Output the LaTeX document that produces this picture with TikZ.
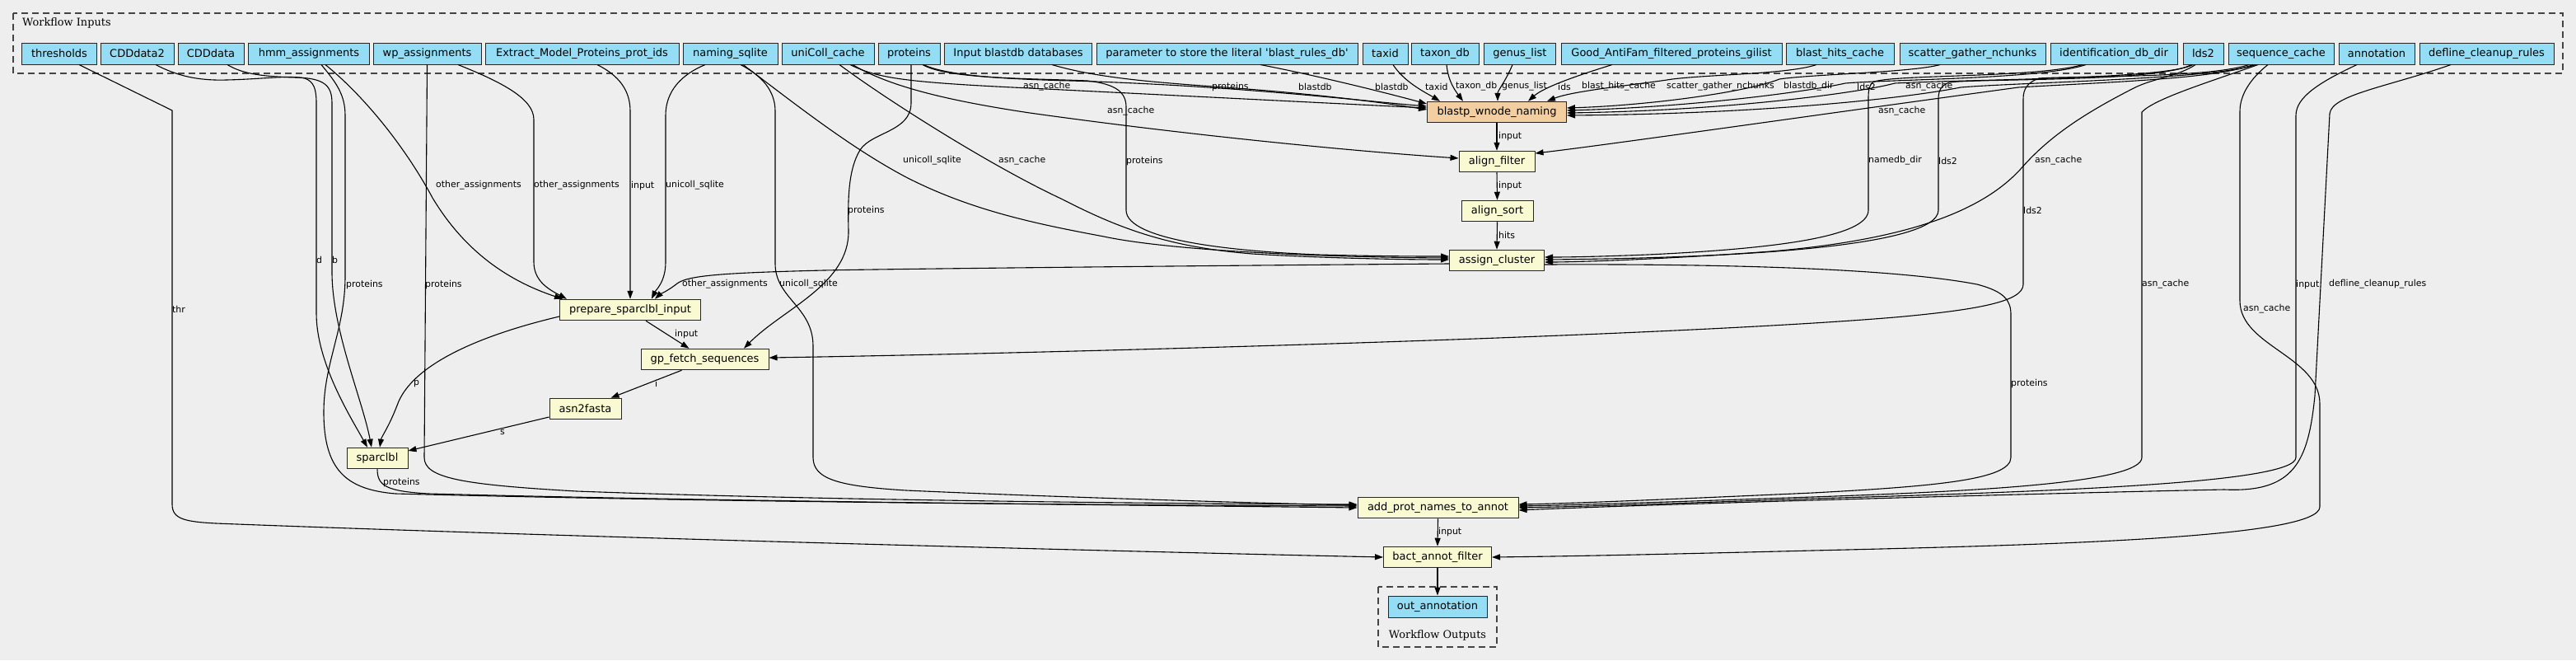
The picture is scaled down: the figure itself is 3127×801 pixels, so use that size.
\documentclass[tikz,border=0pt]{standalone}
\usepackage{fontspec}
\setmainfont{DejaVu Sans}
\newfontfamily\serifft{DejaVu Serif}
\usetikzlibrary{arrows.meta}
\definecolor{bgc}{HTML}{EEEEEE}
\definecolor{inc}{HTML}{94DDF4}
\definecolor{stc}{HTML}{FAFAD2}
\definecolor{wfc}{HTML}{F3CEA1}
\definecolor{grpc}{HTML}{444444}
\begin{document}
\begin{tikzpicture}[x=1pt,y=-1pt,
  inp/.style={draw=black!85, line width=1pt, fill=inc, minimum height=26pt, inner sep=0pt, font=\fontsize{13pt}{15pt}\selectfont},
  stp/.style={draw=black!85, line width=1pt, fill=stc, minimum height=25.5pt, inner sep=0pt, font=\fontsize{13pt}{15pt}\selectfont},
  e/.style={line width=1.1pt, -{Triangle[length=10pt,width=7pt]}},
  lab/.style={font=\fontsize{10.9pt}{12pt}\selectfont, inner sep=0pt, anchor=west},
  grp/.style={draw=grpc, dash pattern=on 8pt off 5pt, line width=1.2pt},
  ttl/.style={font=\serifft\fontsize{12.9pt}{15pt}\selectfont, inner sep=0pt}]
\useasboundingbox (0,0) rectangle (3127,801);
\fill[bgc] (0,0) rectangle (3127,801);
% clusters
\draw[grp] (16,16) rectangle (3111,89);
\draw[grp] (1673,712) rectangle (1817,785);
\node[ttl, anchor=west] (tin) at (27,28) {Workflow Inputs};
\node[ttl] (tout) at (1745,771) {Workflow Outputs};
% inputs
\node[inp, minimum width=91pt] (thr) at (72,65) {thresholds};
\node[inp, minimum width=89pt] (cdd2) at (166.5,65) {CDDdata2};
\node[inp, minimum width=80pt] (cdd) at (256,65) {CDDdata};
\node[inp, minimum width=147pt] (hmm) at (375,65) {hmm\_assignments};
\node[inp, minimum width=131pt] (wp) at (518.5,65) {wp\_assignments};
\node[inp, minimum width=235pt] (emp) at (706.5,65) {Extract\_Model\_Proteins\_prot\_ids};
\node[inp, minimum width=115pt] (nsq) at (886.5,65) {naming\_sqlite};
\node[inp, minimum width=112pt] (ucc) at (1005,65) {uniColl\_cache};
\node[inp, minimum width=75pt] (prot) at (1103.5,65) {proteins};
\node[inp, minimum width=179pt] (ibd) at (1236,65) {Input blastdb databases};
\node[inp, minimum width=317pt] (par) at (1489.5,65) {parameter to store the literal \textquotesingle blast\_rules\_db\textquotesingle};
\node[inp, minimum width=55pt] (taxid) at (1681.5,65) {taxid};
\node[inp, minimum width=82pt] (taxdb) at (1754,65) {taxon\_db};
\node[inp, minimum width=87pt] (genus) at (1845,65) {genus\_list};
\node[inp, minimum width=268pt] (gaf) at (2029,65) {Good\_AntiFam\_filtered\_proteins\_gilist};
\node[inp, minimum width=131pt] (bhc) at (2233.5,65) {blast\_hits\_cache};
\node[inp, minimum width=177pt] (sgn) at (2394.5,65) {scatter\_gather\_nchunks};
\node[inp, minimum width=154pt] (idd) at (2566,65) {identification\_db\_dir};
\node[inp, minimum width=49pt] (lds) at (2674.5,65) {lds2};
\node[inp, minimum width=128pt] (seqc) at (2769,65) {sequence\_cache};
\node[inp, minimum width=92pt] (annot) at (2885,65) {annotation};
\node[inp, minimum width=163pt] (defl) at (3018.5,65) {defline\_cleanup\_rules};
% steps
\node[stp, fill=wfc, minimum width=169pt] (bwn) at (1817,136) {blastp\_wnode\_naming};
\node[stp, minimum width=92pt] (af) at (1817,196) {align\_filter};
\node[stp, minimum width=87pt] (asort) at (1817.5,256) {align\_sort};
\node[stp, minimum width=115pt] (ac) at (1817,316) {assign\_cluster};
\node[stp, minimum width=171pt] (psi) at (765,376) {prepare\_sparclbl\_input};
\node[stp, minimum width=155pt] (gfs) at (855.5,436) {gp\_fetch\_sequences};
\node[stp, minimum width=87pt] (a2f) at (710.5,496) {asn2fasta};
\node[stp, minimum width=74pt] (spl) at (458,556) {sparclbl};
\node[stp, minimum width=195pt] (apn) at (1745.5,616) {add\_prot\_names\_to\_annot};
\node[stp, minimum width=131pt] (baf) at (1745,676) {bact\_annot\_filter};
\node[inp, minimum width=120pt] (out) at (1745,736) {out\_annotation};
% edges
\draw[e] ([xshift=24pt]thr.south) -- (209,134) -- (209,612) .. controls (209,630) and (225,633) .. (262,635) .. controls (700,652) and (1400,670) .. (baf.west);
\draw[e] ([xshift=22.5pt]cdd2.south) .. controls (215,92) and (240,98) .. (275,97) .. controls (320,96) and (350,91) .. (370,95) .. controls (381,99) and (384,108) .. (384,125) -- (384,380) .. controls (384,440) and (425,505) .. ([xshift=-12pt]spl.north);
\draw[e] ([xshift=20pt]cdd.south) .. controls (295,90) and (320,93) .. (360,94) .. controls (394,95) and (403,104) .. (403,125) -- (403,330) .. controls (403,400) and (440,485) .. ([xshift=-7pt]spl.north);
\draw[e] ([xshift=15pt]hmm.south) .. controls (408,100) and (419,115) .. (419,140) -- (419,335) .. controls (419,400) and (393,440) .. (393,500) .. controls (393,570) and (420,594) .. (480,599) .. controls (900,610) and (1400,613) .. ([yshift=2pt]apn.west);
\draw[e] ([xshift=20pt]hmm.south) .. controls (440,115) and (490,175) .. (525,240) .. controls (570,315) and (630,345) .. ([xshift=-82pt]psi.north);
\draw[e] (wp.south) -- (515,555) .. controls (515,580) and (560,588) .. (700,596) .. controls (1000,607) and (1400,611) .. ([yshift=4pt]apn.west);
\draw[e] ([xshift=37.5pt]wp.south) .. controls (610,100) and (648,120) .. (648,145) -- (648,318) .. controls (648,342) and (668,352) .. ([xshift=-77pt]psi.north);
\draw[e] ([xshift=18.5pt]emp.south) .. controls (752,92) and (765,110) .. (765,135) -- (psi.north);
\draw[e] ([xshift=-30.5pt]nsq.south) .. controls (828,90) and (808,110) .. (808,140) -- (808,318) .. controls (808,342) and (796,352) .. ([xshift=26pt]psi.north);
\draw[e] ([xshift=12.5pt]nsq.south) .. controls (925,92) and (941,110) .. (941,135) -- (941,320) .. controls (941,362) and (987,372) .. (987,420) -- (987,555) .. controls (987,582) and (1020,590) .. (1100,595) .. controls (1300,604) and (1550,611) .. ([yshift=3pt]apn.west);
\draw[e] ([xshift=15.5pt]nsq.south) .. controls (960,122) and (1030,178) .. (1100,215) .. controls (1180,256) and (1260,272) .. (1340,287) .. controls (1420,304) and (1600,312) .. ([yshift=3pt]ac.west);
\draw[e] ([xshift=14pt]ucc.south) .. controls (1075,120) and (1200,200) .. (1290,242) .. controls (1360,278) and (1420,300) .. (1520,308) .. controls (1600,313) and (1700,315) .. ([yshift=1pt]ac.west);
\draw[e] ([xshift=27pt]ucc.south) .. controls (1065,95) and (1100,100) .. (1250,107) .. controls (1450,117) and (1650,127) .. ([yshift=5pt]bwn.west);
\draw[e] ([xshift=30pt]ucc.south) .. controls (1080,105) and (1150,122) .. (1250,137) .. controls (1450,165) and (1650,184) .. ([yshift=4pt]af.west);
\draw[e] ([xshift=17.5pt]prot.south) .. controls (1150,92) and (1220,96) .. (1300,98) .. controls (1500,104) and (1650,122) .. ([yshift=7pt]bwn.west);
\draw[e] ([xshift=16.5pt]prot.south) .. controls (1150,96) and (1250,95) .. (1320,98) .. controls (1355,102) and (1367,112) .. (1367,130) -- (1367,255) .. controls (1367,292) and (1500,305) .. (1600,309) .. controls (1680,311) and (1720,311) .. ([yshift=5pt]ac.west);
\draw[e] ([xshift=2.5pt]prot.south) -- (1106,125) .. controls (1106,160) and (1058,160) .. (1044,182) .. controls (1030,205) and (1029,240) .. (1030,280) .. controls (1031,345) and (950,375) .. ([xshift=47.5pt]gfs.north);
\draw[e] ([xshift=41pt]ibd.south) .. controls (1350,100) and (1450,102) .. (1550,111) .. controls (1650,120) and (1700,128) .. ([yshift=3pt]bwn.west);
\draw[e] ([xshift=40.5pt]par.south) .. controls (1600,92) and (1680,112) .. ([yshift=10pt]bwn.west);
\draw[e] ([xshift=9.5pt]taxid.south) .. controls (1705,100) and (1730,112) .. ([xshift=-69pt]bwn.north);
\draw[e] ([xshift=2pt]taxdb.south) .. controls (1758,100) and (1768,112) .. ([xshift=-41pt]bwn.north);
\draw[e] ([xshift=-9pt]genus.south) .. controls (1828,98) and (1818,110) .. ([xshift=1pt]bwn.north);
\draw[e] ([xshift=-72pt]gaf.south) .. controls (1920,90) and (1875,105) .. ([xshift=38pt]bwn.north);
\draw[e] ([xshift=-28.5pt]bhc.south) .. controls (2170,90) and (2080,90) .. (2030,96) .. controls (1985,103) and (1910,110) .. ([xshift=61pt]bwn.north);
\draw[e] ([xshift=-39.5pt]sgn.south) .. controls (2320,88) and (2200,90) .. (2160,96) .. controls (2120,112) and (2000,128) .. ([yshift=5pt]bwn.east);
\draw[e] ([xshift=-34pt]idd.south) .. controls (2480,96) and (2300,96) .. (2240,101) .. controls (2190,112) and (2050,130) .. ([yshift=2pt]bwn.east);
\draw[e] ([xshift=-12.5pt]lds.south) .. controls (2630,96) and (2400,96) .. (2300,101) .. controls (2260,112) and (2100,134) .. ([yshift=-1pt]bwn.east);
\draw[e] ([xshift=-31pt]seqc.south) .. controls (2690,96) and (2450,100) .. (2380,106) .. controls (2320,118) and (2150,138) .. ([yshift=-4pt]bwn.east);
\draw[e] ([xshift=-34pt]seqc.south) .. controls (2690,96) and (2550,100) .. (2450,106) .. controls (2200,140) and (1950,176) .. ([yshift=10pt]af.east);
\draw[e] ([xshift=-38pt]idd.south) .. controls (2470,95) and (2290,90) .. (2273,100) .. controls (2269,104) and (2268,110) .. (2268,118) -- (2268,255) .. controls (2268,288) and (2150,302) .. (2000,309) .. controls (1950,311) and (1910,312) .. ([yshift=4pt]ac.east);
\draw[e] ([xshift=-14.5pt]lds.south) .. controls (2620,100) and (2400,95) .. (2366,100) .. controls (2356,104) and (2353,110) .. (2353,120) -- (2353,255) .. controls (2353,300) and (2100,313) .. ([yshift=1pt]ac.east);
\draw[e] ([xshift=-9.5pt]lds.south) .. controls (2645,92) and (2615,95) .. (2592,106) .. controls (2525,140) and (2485,168) .. (2452,206) .. controls (2400,262) and (2300,292) .. (2150,305) .. controls (2000,316) and (1900,318) .. ([yshift=-2pt]ac.east);
\draw[e] ([xshift=-39pt]seqc.south) .. controls (2680,95) and (2520,92) .. (2475,95) .. controls (2461,100) and (2456,108) .. (2456,120) -- (2456,345) .. controls (2456,366) and (2400,376) .. (2300,385) .. controls (2000,410) and (1200,430) .. ([yshift=2pt]gfs.east);
\draw[e] ([yshift=-5pt]ac.east) .. controls (2100,320) and (2300,326) .. (2400,345) .. controls (2434,354) and (2441,365) .. (2441,382) -- (2441,555) .. controls (2441,582) and (2350,590) .. (2200,598) .. controls (2000,607) and (1900,611) .. ([yshift=4pt]apn.east);
\draw[e] ([xshift=-28pt]seqc.south) .. controls (2680,100) and (2615,120) .. (2600,136) -- (2600,555) .. controls (2600,586) and (2400,596) .. (2200,603) .. controls (2000,610) and (1900,613) .. ([yshift=2pt]apn.east);
\draw[e] ([xshift=-16pt]seqc.south) .. controls (2732,95) and (2719,115) .. (2719,135) -- (2719,365) .. controls (2719,420) and (2816,432) .. (2816,490) -- (2816,615) .. controls (2816,652) and (2500,661) .. (2200,668) .. controls (2000,673) and (1900,675) .. (baf.east);
\draw[e] ([xshift=-24pt]annot.south) .. controls (2815,100) and (2787,118) .. (2787,140) -- (2787,555) .. controls (2787,586) and (2500,596) .. (2200,605) .. controls (2000,612) and (1900,615) .. (apn.east);
\draw[e] ([xshift=-43.5pt]defl.south) .. controls (2900,105) and (2830,115) .. (2828,138) -- (2810,480) .. controls (2802,560) and (2785,598) .. (2700,594) .. controls (2500,598) and (2000,612) .. ([yshift=-3pt]apn.east);
\draw[e] (bwn.south) -- (af.north);
\draw[e] (af.south) -- (asort.north);
\draw[e] (asort.south) -- (ac.north);
\draw[e] ([yshift=-4pt]ac.west) .. controls (1500,322) and (1100,326) .. (1000,328) .. controls (880,331) and (835,334) .. (822,344) .. controls (812,352) and (800,358) .. ([xshift=30pt]psi.north);
\draw[e] ([xshift=19pt]psi.south) -- ([xshift=-19pt]gfs.north);
\draw[e] ([yshift=-8pt]psi.west) .. controls (590,405) and (500,440) .. (482,492) .. controls (472,518) and (463,530) .. ([xshift=3pt]spl.north);
\draw[e] ([xshift=-28pt]gfs.south) -- ([xshift=31pt]a2f.north);
\draw[e] ([yshift=-10pt]a2f.west) -- ([yshift=9pt]spl.east);
\draw[e] (spl.south) .. controls (458,590) and (470,596) .. (520,599) .. controls (900,609) and (1400,613) .. (apn.west);
\draw[e] (apn.south) -- (baf.north);
\draw[e] (baf.south) -- (out.north);
% labels
\node[lab] (l1) at (209,375) {thr};
\node[lab] (l2) at (384,315) {d};
\node[lab] (l3) at (403,315) {b};
\node[lab] (l4) at (420,345) {proteins};
\node[lab] (l5) at (516,345) {proteins};
\node[lab] (l6) at (529,225) {other\_assignments};
\node[lab] (l7) at (648,225) {other\_assignments};
\node[lab] (l8) at (766,225) {input};
\node[lab] (l9) at (808,225) {unicoll\_sqlite};
\node[lab] (l10) at (946,345) {unicoll\_sqlite};
\node[lab] (l11) at (1096,195) {unicoll\_sqlite};
\node[lab] (l12) at (1212,195) {asn\_cache};
\node[lab] (l13) at (1367,195) {proteins};
\node[lab] (l14) at (1029,255) {proteins};
\node[lab] (l15) at (1242,105) {asn\_cache};
\node[lab] (l16) at (1344,135) {asn\_cache};
\node[lab] (l17) at (1471,105) {proteins};
\node[lab] (l18) at (1576,105) {blastdb};
\node[lab] (l19) at (1669,105) {blastdb};
\node[lab] (l20) at (1730,105) {taxid};
\node[lab] (l21) at (1767,105) {taxon\_db};
\node[lab] (l22) at (1823,105) {genus\_list};
\node[lab] (l23) at (1891,105) {ids};
\node[lab] (l24) at (1920,105) {blast\_hits\_cache};
\node[lab] (l25) at (2023,105) {scatter\_gather\_nchunks};
\node[lab] (l26) at (2165,105) {blastdb\_dir};
\node[lab] (l27) at (2254,105) {lds2};
\node[lab] (l28) at (2313,105) {asn\_cache};
\node[lab] (l29) at (2280,135) {asn\_cache};
\node[lab] (l30) at (2268,195) {namedb\_dir};
\node[lab] (l31) at (2353,195) {lds2};
\node[lab] (l32) at (2470,195) {asn\_cache};
\node[lab] (l33) at (2456,255) {lds2};
\node[lab] (l34) at (2441,465) {proteins};
\node[lab] (l35) at (2600,345) {asn\_cache};
\node[lab] (l36) at (2723,375) {asn\_cache};
\node[lab] (l37) at (2787,345) {input};
\node[lab] (l38) at (2827,345) {defline\_cleanup\_rules};
\node[lab] (l39) at (1819,165) {input};
\node[lab] (l40) at (1819,225) {input};
\node[lab] (l41) at (1819,285) {hits};
\node[lab] (l42) at (828,345) {other\_assignments};
\node[lab] (l43) at (819,405) {input};
\node[lab] (l44) at (502,466) {p};
\node[lab] (l45) at (795,465) {i};
\node[lab] (l46) at (607,525) {s};
\node[lab] (l47) at (465,585) {proteins};
\node[lab] (l48) at (1746,645) {input};
\end{tikzpicture}
\end{document}
